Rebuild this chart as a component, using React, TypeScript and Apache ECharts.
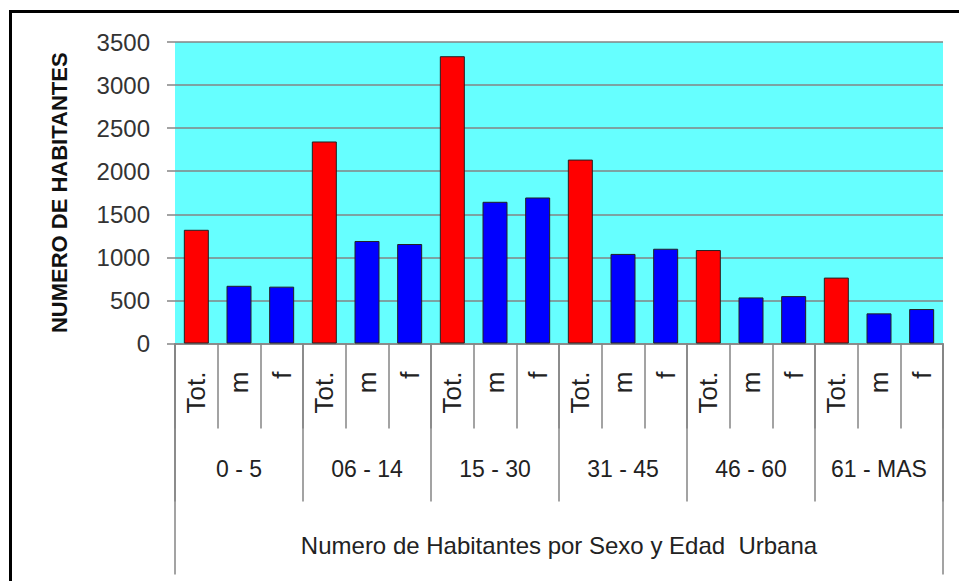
import React, { useEffect, useRef } from "react";
import * as echarts from "echarts";

const groups = ["0 - 5", "06 - 14", "15 - 30", "31 - 45", "46 - 60", "61 - MAS"];
const subLabels = ["Tot.", "m", "f"];
const totals = [1320, 2345, 3335, 2135, 1085, 765];
const male = [670, 1190, 1645, 1040, 535, 350];
const female = [660, 1155, 1695, 1100, 550, 400];
const axisTitle = "Numero de Habitantes por Sexo y Edad  Urbana";
const yTitle = "NUMERO DE HABITANTES";
const yTicks = { min: 0, max: 3500, interval: 500 };

const RED = "#ff0000";
const BLUE = "#0000ff";
const GRAYLINE = "#858585";
const FONT = "'Liberation Sans', Arial, sans-serif";

export default function App() {
  const ref = useRef<HTMLDivElement>(null);
  useEffect(() => {
    if (!ref.current) return;
    const chart = echarts.init(ref.current, null, { renderer: "svg" });

    const cats: string[] = [];
    const data: any[] = [];
    groups.forEach((g, i) => {
      const vals = [totals[i], male[i], female[i]];
      subLabels.forEach((s, j) => {
        cats.push(s);
        data.push({
          value: vals[j],
          itemStyle: { color: j === 0 ? RED : BLUE },
        });
      });
    });

    chart.setOption({
      animation: false,
      backgroundColor: "#ffffff",
      grid: {
        left: 175,
        top: 42,
        width: 768,
        height: 301.5,
        show: true,
        backgroundColor: "#66ffff",
        borderWidth: 0,
        containLabel: false,
      },
      graphic: [
        {
          type: "rect",
          shape: { x: 10.5, y: 11.5, width: 1000, height: 1000 },
          style: { fill: "none", stroke: "#000000", lineWidth: 3 },
          silent: true,
        },
      ],
      xAxis: [
        {
          type: "category",
          position: "bottom",
          data: cats,
          axisLine: { show: true, lineStyle: { color: GRAYLINE, width: 1.5 } },
          axisTick: { show: true, interval: 0, length: 85, lineStyle: { color: GRAYLINE, width: 1.5 } },
          axisLabel: {
            interval: 0,
            rotate: 90,
            margin: 28,
            fontSize: 26,
            color: "#222",
            fontFamily: FONT,
          },
          splitLine: { show: false },
        },
        {
          type: "category",
          position: "bottom",
          data: groups,
          axisLine: { show: false },
          axisTick: { show: true, interval: 0, length: 158, lineStyle: { color: GRAYLINE, width: 1.5 } },
          axisLabel: {
            interval: 0,
            margin: 114,
            fontSize: 23,
            color: "#222",
            fontFamily: FONT,
          },
          splitLine: { show: false },
        },
        {
          type: "category",
          position: "bottom",
          data: [axisTitle],
          axisLine: { show: false },
          axisTick: { show: true, interval: 0, length: 231, lineStyle: { color: GRAYLINE, width: 1.5 } },
          axisLabel: {
            interval: 0,
            margin: 190,
            fontSize: 24,
            color: "#222",
            fontFamily: FONT,
          },
          splitLine: { show: false },
        },
      ],
      yAxis: {
        type: "value",
        min: yTicks.min,
        max: yTicks.max,
        interval: yTicks.interval,
        name: yTitle,
        nameLocation: "middle",
        nameRotate: 90,
        nameGap: 105,
        nameTextStyle: {
          fontSize: 22,
          fontWeight: "bold",
          color: "#111",
          fontFamily: FONT,
        },
        axisLine: { show: false },
        axisTick: { show: true, length: 8, lineStyle: { color: GRAYLINE, width: 1.5 } },
        axisLabel: {
          margin: 25,
          fontSize: 24,
          color: "#333",
          fontFamily: FONT,
          formatter: (v: number) => String(v),
        },
        splitLine: { show: true, lineStyle: { color: GRAYLINE, width: 1.5 } },
      },
      series: [
        {
          type: "bar",
          xAxisIndex: 0,
          yAxisIndex: 0,
          data,
          barWidth: 25,
          itemStyle: { borderColor: "#222", borderWidth: 1 },
        },
      ],
    });

    return () => chart.dispose();
  }, []);

  return (
    <div
      ref={ref}
      style={{ position: "fixed", left: 0, top: 0, width: 959, height: 581 }}
    />
  );
}
